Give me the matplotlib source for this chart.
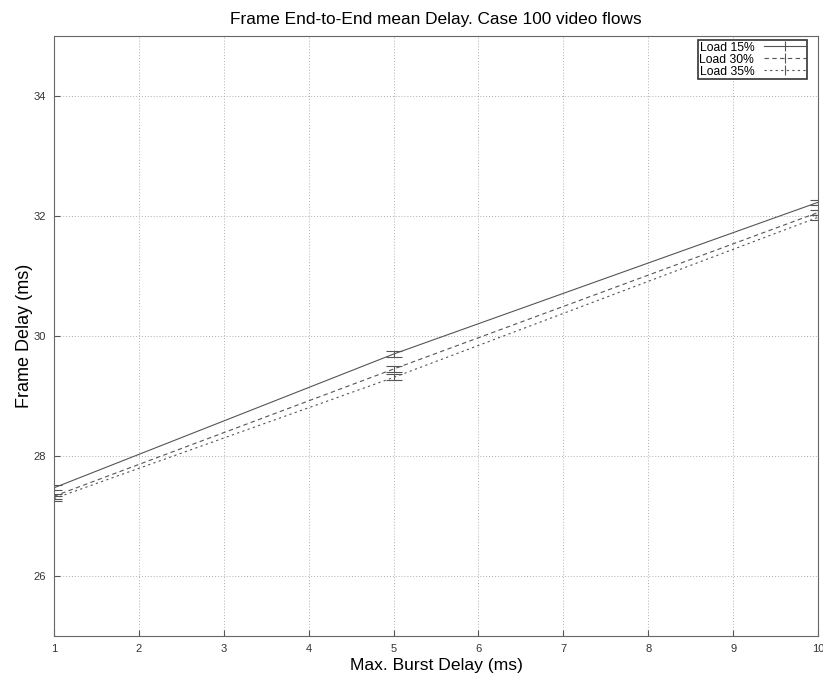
import numpy as np
from matplotlib import pyplot as plt
from matplotlib.lines import Line2D

plt.rcParams['font.family'] = ['Liberation Sans', 'DejaVu Sans']

burst_delay = [1, 5, 10]
loads = ['Load 15%', 'Load 30%', 'Load 35%']
delay_15 = [27.47, 29.70, 32.23]
delay_30 = [27.33, 29.45, 32.06]
delay_35 = [27.29, 29.31, 31.98]
err_15 = [0.04, 0.05, 0.04]
err_30 = [0.04, 0.05, 0.04]
err_35 = [0.04, 0.05, 0.04]

fig = plt.figure(figsize=(8.23, 6.77), dpi=100)
ax = fig.add_axes([0.0656, 0.0606, 0.9284, 0.886])

styles = ['-', (0, (4, 3)), (0, (2, 3))]
handles = []
for lab, ys, es, ls in zip(loads, [delay_15, delay_30, delay_35],
                           [err_15, err_30, err_35], styles):
    ax.errorbar(burst_delay, ys, yerr=es, color='#555555', lw=0.8,
                linestyle=ls, elinewidth=0.8, capsize=6, capthick=0.8)
    handles.append(Line2D([], [], color='#555555', lw=0.8, linestyle=ls,
                          marker='|', markersize=7, markeredgewidth=0.8))

ax.set_xlim(1, 10)
ax.set_ylim(25, 35)
ax.set_xticks(range(1, 11))
ax.set_yticks([26, 28, 30, 32, 34])
ax.tick_params(labelsize=8, direction='in', length=4, color='#555555', pad=6,
               labelcolor='#333333')
ax.grid(True, linestyle=(0, (1, 2)), color='#b0b0b0', lw=0.7)
for s in ax.spines.values():
    s.set_color('#666666')

ax.set_title('Frame End-to-End mean Delay. Case 100 video flows', fontsize=12.4, pad=9)
ax.set_xlabel('Max. Burst Delay (ms)', fontsize=12.6, labelpad=2.5)
ax.set_ylabel('Frame Delay (ms)', fontsize=13, labelpad=0)

leg = ax.legend(handles, loads, loc='upper right', fontsize=8.7, fancybox=False,
                framealpha=1, edgecolor='#333333', handlelength=3.5, numpoints=1,
                borderpad=0.1, labelspacing=0.0, handletextpad=0.8,
                markerfirst=False, bbox_to_anchor=(0.986, 0.993),
                borderaxespad=0)
leg.get_frame().set_linewidth(1.2)

fig.savefig('out.png', dpi=100)
